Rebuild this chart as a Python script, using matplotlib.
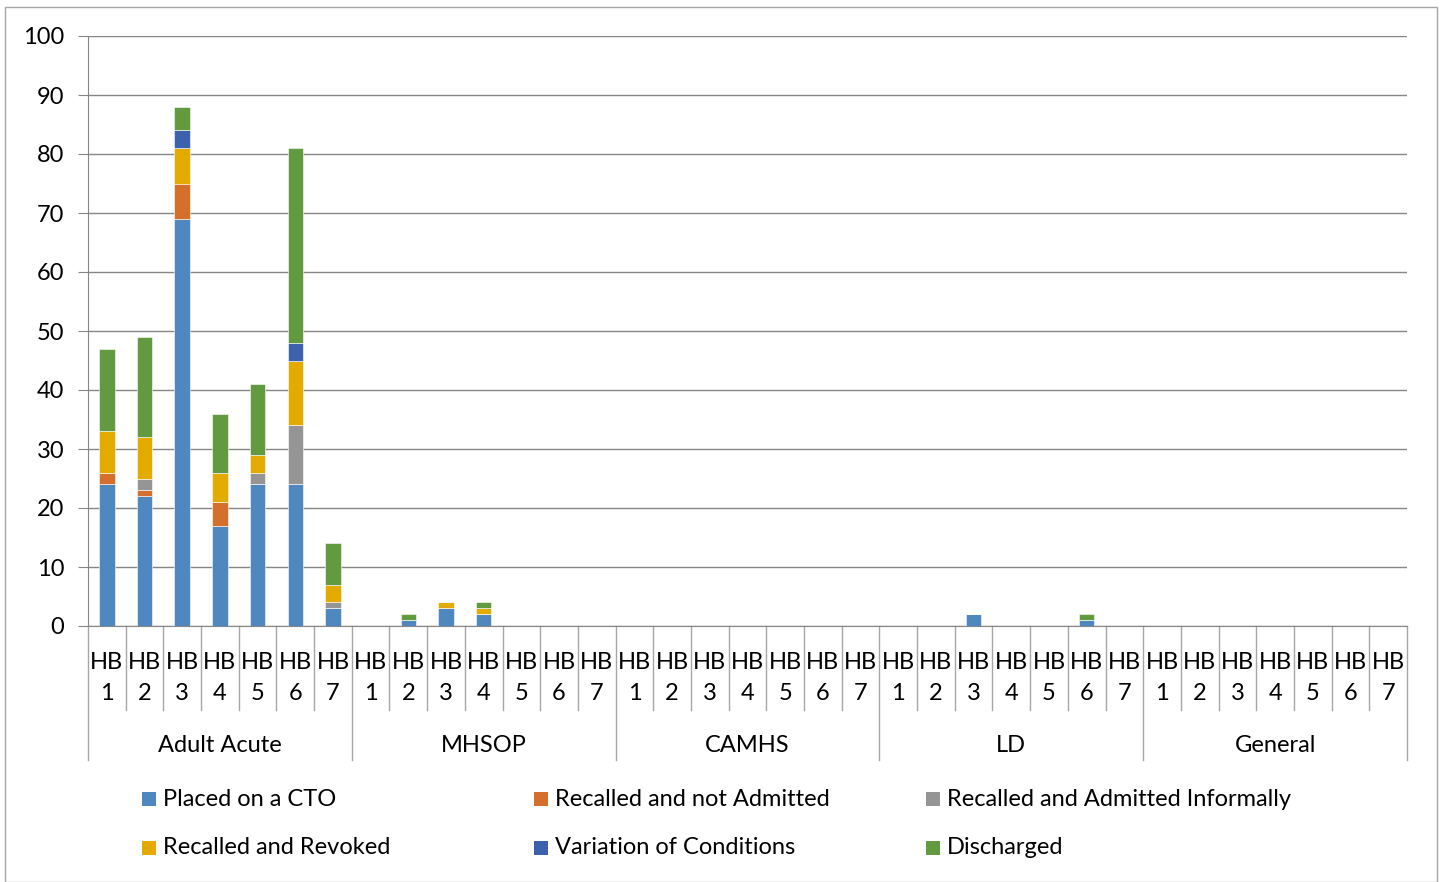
import numpy as np
import matplotlib
matplotlib.use("Agg")
from matplotlib import pyplot as plt

plt.rcParams['font.family'] = ['Lato', 'DejaVu Sans']

groups = ["Adult Acute", "MHSOP", "CAMHS", "LD", "General"]
boards = ["HB\n1", "HB\n2", "HB\n3", "HB\n4", "HB\n5", "HB\n6", "HB\n7"]

series_names = ["Placed on a CTO", "Recalled and not Admitted",
                "Recalled and Admitted Informally", "Recalled and Revoked",
                "Variation of Conditions", "Discharged"]
colors = ["#4F88BE", "#D4702B", "#959595", "#E3AA00", "#3C62AE", "#629A3F"]

# 35 categories: 5 groups x 7 health boards
placed_cto = [24, 22, 69, 17, 24, 24, 3,
              0, 1, 3, 2, 0, 0, 0,
              0, 0, 0, 0, 0, 0, 0,
              0, 0, 2, 0, 0, 1, 0,
              0, 0, 0, 0, 0, 0, 0]
recalled_not_admitted = [2, 1, 6, 4, 0, 0, 0,
                         0, 0, 0, 0, 0, 0, 0,
                         0, 0, 0, 0, 0, 0, 0,
                         0, 0, 0, 0, 0, 0, 0,
                         0, 0, 0, 0, 0, 0, 0]
recalled_informal = [0, 2, 0, 0, 2, 10, 1,
                     0, 0, 0, 0, 0, 0, 0,
                     0, 0, 0, 0, 0, 0, 0,
                     0, 0, 0, 0, 0, 0, 0,
                     0, 0, 0, 0, 0, 0, 0]
recalled_revoked = [7, 7, 6, 5, 3, 11, 3,
                    0, 0, 1, 1, 0, 0, 0,
                    0, 0, 0, 0, 0, 0, 0,
                    0, 0, 0, 0, 0, 0, 0,
                    0, 0, 0, 0, 0, 0, 0]
variation = [0, 0, 3, 0, 0, 3, 0,
             0, 0, 0, 0, 0, 0, 0,
             0, 0, 0, 0, 0, 0, 0,
             0, 0, 0, 0, 0, 0, 0,
             0, 0, 0, 0, 0, 0, 0]
discharged = [14, 17, 4, 10, 12, 33, 7,
              0, 1, 0, 1, 0, 0, 0,
              0, 0, 0, 0, 0, 0, 0,
              0, 0, 0, 0, 0, 1, 0,
              0, 0, 0, 0, 0, 0, 0]

series = [placed_cto, recalled_not_admitted, recalled_informal,
          recalled_revoked, variation, discharged]

W, H = 1443, 882
grid_col = "#868686"
fig = plt.figure(figsize=(W / 100, H / 100), dpi=100)
ax = fig.add_axes([88 / W, 1 - 626 / H, (1407 - 88) / W, (626 - 36) / H])

n = len(placed_cto)
x = np.arange(n)
bottom = np.zeros(n)
for vals, col in zip(series, colors):
    v = np.array(vals, dtype=float)
    ax.bar(x, v, width=0.41, bottom=bottom, color=col, edgecolor="white",
           linewidth=0.4, zorder=3)
    bottom += v

ax.set_xlim(-0.5, n - 0.5)
ax.set_ylim(0, 100)
ax.set_yticks(range(0, 101, 10))
ax.tick_params(axis='y', labelsize=17, length=7, color=grid_col, pad=10)
ax.set_xticks([])
ax.grid(axis='y', color=grid_col, linewidth=1, zorder=0)
for s in ["top", "right"]:
    ax.spines[s].set_visible(False)
ax.spines["left"].set_color(grid_col)
ax.spines["bottom"].set_color(grid_col)

# multi-level category axis
tr = ax.get_xaxis_transform()
px = 1 / (626 - 36)
for i in range(n + 1):
    edge = i - 0.5
    low = -134 * px if i % 7 == 0 else -84 * px
    ax.plot([edge, edge], [0, low], transform=tr, color="#A6A6A6",
            linewidth=1, clip_on=False)
for i in range(n):
    ax.text(i, -52 * px, boards[i % 7], transform=tr, ha="center", va="center",
            fontsize=17, linespacing=1.6)
for g, name in enumerate(groups):
    ax.text(g * 7 + 3, -119 * px, name, transform=tr, ha="center", va="center",
            fontsize=17)

# legend, 3 equal-width columns
col_x = [142, 534, 926]
row_y = [799, 848]
for k, (name, c) in enumerate(zip(series_names, colors)):
    cx = col_x[k % 3]
    cy = row_y[k // 3]
    fig.patches.append(plt.Rectangle((cx / W, 1 - (cy + 7) / H), 14 / W, 14 / H,
                                     transform=fig.transFigure, facecolor=c,
                                     edgecolor="none"))
    fig.text((cx + 21) / W, 1 - cy / H, name, ha="left", va="center", fontsize=17)

# outer chart border
fig.patches.append(plt.Rectangle((5 / W, 0), 1432 / W, 1 - 7 / H,
                                 transform=fig.transFigure, fill=False,
                                 edgecolor="#A6A6A6", linewidth=1))

fig.savefig("out.png", dpi=100)
